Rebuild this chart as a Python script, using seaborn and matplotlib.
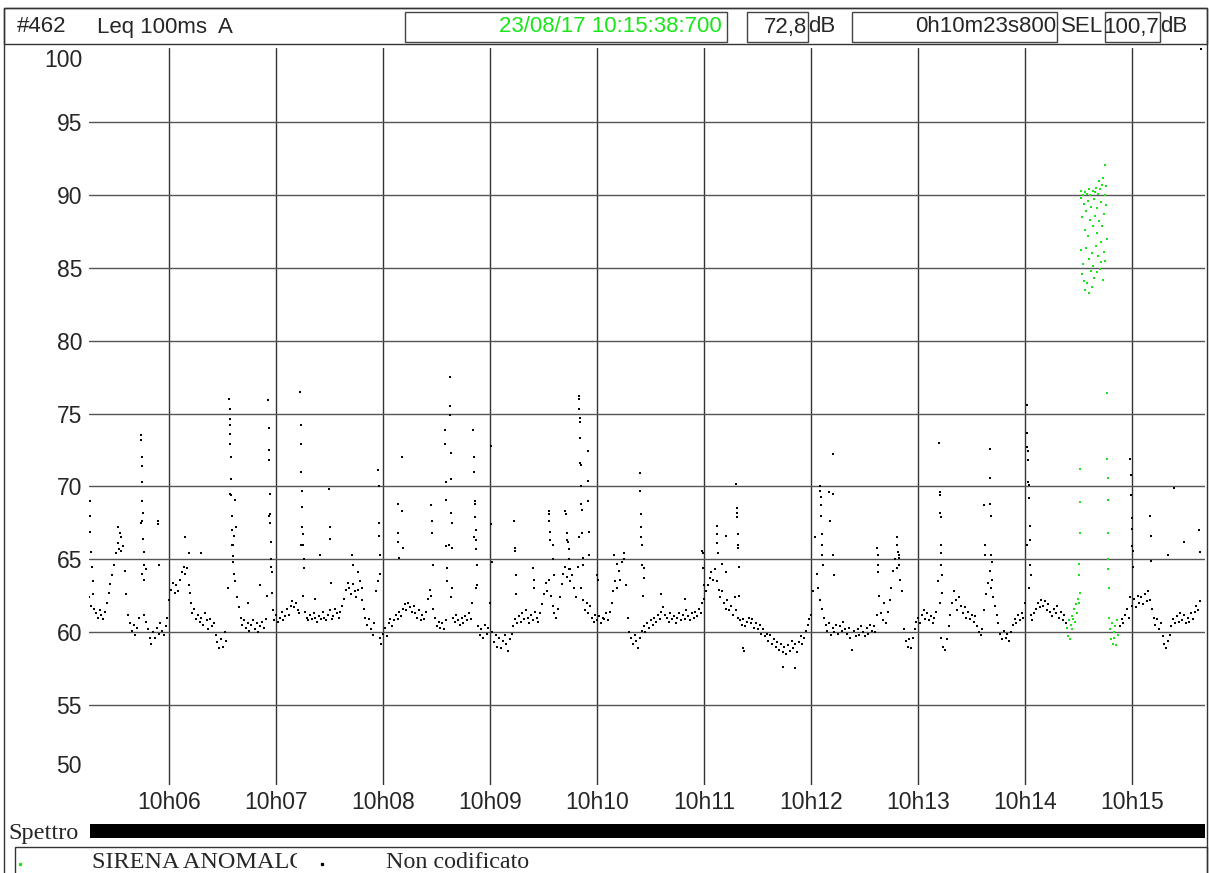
import numpy as np
import pandas as pd
import matplotlib
matplotlib.use("Agg")
import matplotlib.pyplot as plt
from matplotlib.patches import Rectangle
from matplotlib.lines import Line2D
import seaborn as sns

W, H = 1209, 873
START = 314.9  # first sample, seconds after 10:00:00 (10:05:14.9)

# black trace, one reading per second from START (None = siren event, drawn green)
leq_db = [
    62.4, 61.8, 62.6, 61.6, 61.3, 61.0, 61.5, 61.2, 60.9, 61.4,
    62.0, 62.7, 63.3, 63.9, 64.6, 65.4, 66.1, 65.7, 66.5, 65.9,
    64.2, 62.6, 61.2, 60.6, 60.1, 60.5, 59.8, 60.3, 61.0, 67.5,
    64.0, 61.2, 60.7, 60.2, 59.6, 59.2, 60.0, 59.6, 60.3, 59.9,
    60.6, 60.1, 59.8, 60.4, 61.0, 62.2, 62.9, 63.4, 62.7, 63.2,
    62.8, 63.6, 64.1, 64.5, 64.0, 64.4, 63.2, 62.0, 61.3, 61.6,
    60.9, 61.2, 60.7, 61.0, 60.5, 61.3, 60.8, 60.2, 60.9, 60.4,
    60.6, 59.8, 59.3, 58.9, 59.5, 59.0, 60.0, 59.4, 63.0, 69.5,
    66.0, 64.8, 63.5, 62.4, 61.7, 61.0, 60.5, 60.8, 60.3, 60.6,
    60.1, 60.5, 60.8, 60.2, 60.6, 60.0, 60.4, 60.7, 60.3, 60.9,
    62.5, 68.0, 64.5, 61.5, 60.8, 61.2, 60.7, 61.0, 61.4, 60.8,
    61.1, 61.6, 61.2, 61.8, 62.1, 61.7, 62.0, 61.5, 61.3, 66.0,
    62.5, 61.4, 61.0, 60.8, 61.2, 60.9, 61.3, 61.0, 60.7, 61.1,
    60.9, 61.4, 61.0, 60.8, 61.2, 61.5, 60.9, 61.1, 61.6, 61.3,
    61.0, 61.4, 61.8, 62.3, 62.9, 63.4, 63.0, 62.6, 63.3, 62.8,
    62.4, 62.9, 63.5, 62.2, 61.6, 61.0, 60.5, 60.9, 60.2, 59.8,
    60.6, 62.8, 63.5, 59.6, 59.2, 59.9, 60.3, 59.7, 60.6, 60.9,
    60.4, 60.8, 61.2, 60.9, 61.4, 61.1, 61.6, 61.9, 61.5, 62.0,
    61.7, 61.4, 61.8, 61.3, 61.0, 61.5, 60.8, 61.2, 60.9, 61.4,
    62.3, 62.9, 62.5, 61.6, 61.0, 60.4, 60.7, 60.3, 60.6, 60.2,
    60.8, 63.5, 66.0, 62.4, 61.0, 60.7, 61.2, 60.8, 60.5, 61.0,
    60.6, 61.1, 60.8, 61.3, 60.9, 62.0, 66.5, 63.0, 60.4, 59.8,
    60.2, 59.6, 60.5, 59.9, 60.3, 62.0, 60.0, 59.3, 59.8, 59.0,
    59.6, 58.9, 59.4, 59.8, 59.2, 58.7, 59.5, 59.9, 60.4, 60.9,
    60.6, 61.1, 60.7, 61.3, 60.9, 61.5, 61.0, 60.6, 61.2, 60.8,
    61.4, 61.0, 60.7, 61.3, 61.9, 62.6, 63.4, 62.8, 63.6, 62.5,
    61.8, 61.3, 61.0, 61.6, 62.4, 63.3, 64.0, 64.5, 63.8, 64.3,
    63.5, 63.9, 63.0, 62.4, 64.5, 66.5, 63.0, 62.2, 61.5, 62.0,
    61.3, 61.8, 61.0, 60.7, 61.2, 60.8, 61.1, 60.6, 61.0, 60.9,
    61.3, 60.8, 61.4, 62.0, 62.8, 63.5, 63.0, 64.2, 63.6, 64.8,
    65.0, 63.2, 61.0, 60.0, 59.6, 59.2, 59.8, 59.4, 58.9, 59.6,
    60.1, 60.4, 60.0, 60.6, 60.3, 60.8, 60.5, 61.0, 60.7, 61.2,
    60.9, 61.4, 61.7, 61.2, 61.0, 60.7, 61.3, 60.9, 61.1, 60.6,
    61.0, 61.3, 60.8, 61.2, 60.9, 61.5, 61.1, 60.8, 61.3, 61.0,
    61.4, 61.1, 61.6, 61.3, 62.0, 62.3, 62.8, 63.2, 63.7, 64.1,
    63.6, 64.3, 63.5, 62.9, 62.4, 62.8, 62.0, 61.6, 62.2, 61.5,
    61.8, 61.2, 62.4, 61.5, 61.0, 60.8, 60.5, 60.9, 60.4, 60.7,
    61.0, 60.6, 60.9, 60.3, 60.6, 60.2, 60.5, 59.9, 60.2, 59.7,
    59.9, 59.4, 59.8, 59.2, 59.5, 59.0, 59.3, 58.8, 59.2, 58.6,
    59.0, 58.5, 59.1, 58.7, 59.4, 58.9, 59.2, 58.6, 59.3, 59.7,
    59.2, 59.6, 60.1, 60.5, 60.9, 61.2, 62.8, 66.5, 64.0, 63.0,
    62.2, 61.6, 61.0, 60.5, 60.1, 60.6, 59.8, 60.3, 60.0, 60.5,
    59.9, 60.4, 60.1, 60.7, 60.2, 59.9, 60.3, 59.6, 58.8, 60.1,
    59.7, 60.2, 59.8, 60.4, 60.0, 59.7, 60.3, 59.9, 60.5, 60.1,
    60.4, 60.0, 61.2, 62.5, 61.3, 60.8, 62.0, 60.6, 61.4, 62.2,
    63.0, 64.2, 65.0, 64.4, 65.3, 63.6, 62.8, 60.2, 59.4, 59.0,
    59.5, 58.9, 59.6, 60.2, 60.7, 61.0, 60.6, 61.2, 61.5, 60.9,
    61.3, 60.8, 61.1, 60.6, 61.0, 61.4, 63.5, 62.0, 59.6, 59.0,
    58.8, 59.5, 60.4, 61.2, 62.0, 62.8, 62.2, 61.5, 62.4, 61.8,
    61.3, 61.7, 61.0, 61.4, 60.9, 61.2, 60.7, 61.1, 60.4, 60.0,
    59.8, 60.2, 61.5, 62.6, 63.4, 64.2, 63.0, 62.4, 61.8, 61.2,
    60.6, 59.9, 59.5, 60.1, 59.6, 59.9, 59.4, 60.0, 60.5, 60.9,
    60.6, 61.2, 60.8, 61.3, 61.0, 62.0, 66.0, 63.0, 61.2, 60.8,
    61.3, 61.6, 62.0, 61.7, 62.2, 61.8, 62.1, 61.5, 61.9, 61.4,
    61.1, 61.6, 61.3, 61.8, 61.0, 61.4, 60.8, 61.2, 60.6, None,
    None, None, None, None, None, None, None, None, None, None,
    None, None, None, None, None, None, None, None, None, None,
    None, None, None, None, None, None, None, None, 60.4, 60.9,
    60.6, 61.2, 61.6, 61.0, 62.4, 61.8, 62.3, 61.7, 62.5, 62.0,
    62.4, 61.9, 62.6, 62.1, 62.8, 62.2, 61.6, 61.0, 60.5, 60.9,
    60.2, 60.6, 59.7, 59.2, 58.9, 59.4, 59.8, 60.4, 60.9, 60.6,
    61.1, 60.7, 61.3, 60.8, 61.2, 60.6, 61.0, 60.7, 61.3, 60.9,
    61.4, 61.8, 61.5, 62.1,
]

# extra black readings inside the short noise peaks: (seconds from START, dB)
peaks = [
    (0.3, 69.0), (0.5, 68.0), (0.8, 66.9), (1.2, 65.5), (1.6, 64.5), (2.2, 63.5),
    (16.5, 67.2), (17.5, 66.8), (18.2, 65.6),
    (29.2, 73.5), (29.4, 73.2), (29.6, 72.0), (29.8, 71.4), (30.0, 70.3), (29.5, 69.0),
    (30.2, 68.2), (29.9, 67.6), (30.4, 66.4), (30.6, 65.5), (30.8, 64.6), (31.0, 63.6),
    (32.0, 64.3), (38.5, 67.6), (38.8, 67.4), (39.2, 64.6),
    (54.0, 66.5), (56.0, 65.4), (56.5, 62.7), (63.0, 65.4),
    (78.6, 76.0), (78.8, 75.3), (79.0, 74.6), (78.9, 74.2), (79.2, 73.6), (79.3, 72.9),
    (79.5, 72.0), (79.6, 70.5), (79.8, 69.4), (80.0, 68.0), (80.3, 67.0), (80.5, 66.0),
    (80.8, 65.2), (81.2, 64.0), (82.0, 69.1), (82.2, 67.2), (81.5, 66.6),
    (89.0, 62.0), (96.0, 63.2),
    (100.6, 75.9), (100.8, 74.0), (101.0, 72.5), (101.2, 71.8), (101.4, 69.5), (101.5, 68.1),
    (101.7, 67.5), (101.9, 66.2), (102.2, 65.0), (102.5, 64.1), (102.8, 62.7),
    (118.4, 76.5), (118.6, 74.2), (118.8, 72.9), (119.0, 71.0), (119.2, 69.7), (119.4, 68.6),
    (119.6, 67.2), (119.8, 66.7), (120.0, 66.0), (120.3, 65.0), (120.6, 64.4),
    (127.0, 62.3), (129.7, 65.3), (134.8, 69.8), (135.0, 67.2), (135.2, 66.4), (135.5, 63.4),
    (147.4, 65.3), (148.0, 64.6), (151.0, 64.1), (153.0, 63.0),
    (162.2, 71.1), (162.4, 70.0), (162.6, 67.5), (162.8, 66.6), (163.0, 65.3), (163.3, 64.0),
    (173.0, 68.8), (173.3, 66.8), (173.5, 66.2), (174.0, 65.1), (175.5, 72.0), (175.7, 68.3),
    (176.0, 65.8),
    (192.0, 68.7), (192.3, 67.6), (192.6, 66.8), (193.0, 64.6),
    (199.6, 73.9), (199.8, 72.9), (200.0, 70.3), (200.2, 69.1), (200.4, 65.9), (200.6, 64.4),
    (202.2, 77.5), (202.4, 75.5), (202.6, 74.9), (202.8, 72.3), (203.0, 70.5), (203.2, 68.2),
    (203.4, 67.5), (203.6, 65.8), (203.8, 63.0),
    (215.6, 73.9), (215.8, 72.0), (216.0, 71.0), (216.2, 69.0), (216.4, 68.8), (216.6, 67.9),
    (216.8, 67.0), (217.0, 66.3), (217.2, 65.7), (217.4, 64.6), (217.6, 63.2),
    (225.4, 72.8), (225.6, 67.4), (225.8, 64.8),
    (238.5, 67.6), (238.7, 65.8), (238.9, 65.6), (239.2, 63.9), (239.5, 62.6),
    (249.0, 64.4), (249.3, 63.6), (249.6, 63.0),
    (257.7, 68.3), (258.0, 68.1), (258.2, 67.6), (258.4, 66.9), (258.6, 66.3),
    (260.0, 66.0), (260.3, 65.0), (260.6, 63.9),
    (267.0, 68.3), (267.5, 68.1), (268.0, 66.8), (268.3, 66.3), (268.6, 66.2), (269.0, 65.7),
    (269.4, 65.0), (269.8, 64.3),
    (274.6, 76.2), (274.8, 76.0), (275.0, 75.3), (275.1, 74.7), (275.2, 74.4), (275.4, 73.3),
    (275.6, 71.6), (275.7, 71.5), (275.9, 70.0), (276.1, 68.8), (276.3, 68.4), (276.5, 66.8),
    (276.8, 65.1), (277.0, 64.6),
    (279.6, 72.4), (279.8, 70.4), (280.0, 69.0), (280.3, 66.9), (280.6, 65.3),
    (285.0, 63.9), (285.4, 63.6), (294.5, 65.3), (296.0, 64.7), (300.2, 65.4),
    (309.0, 70.9), (309.2, 69.7), (309.4, 68.1), (309.6, 67.2), (309.8, 66.5), (310.0, 66.0),
    (310.3, 64.6), (311.0, 64.4), (311.4, 63.7), (310.6, 62.5),
    (320.6, 62.6), (334.0, 62.3),
    (344.0, 65.6), (344.2, 65.4), (344.4, 64.4), (344.7, 63.2),
    (352.0, 67.3), (352.2, 66.7), (352.4, 66.1), (352.6, 65.4),
    (355.0, 64.7), (357.0, 66.6), (357.3, 64.1),
    (363.0, 70.2), (363.2, 68.5), (363.3, 68.2), (363.5, 67.9), (363.7, 66.7), (363.9, 66.0),
    (364.1, 65.8), (364.4, 64.5), (364.7, 62.5),
    (367.0, 58.9), (367.3, 58.7), (389.0, 57.6), (396.0, 57.5),
    (410.0, 70.0), (410.1, 69.7), (410.3, 69.3), (410.5, 68.7), (410.7, 68.0), (410.9, 66.7),
    (411.1, 66.0), (411.3, 65.3), (411.6, 64.6),
    (415.0, 69.6), (415.3, 67.6), (417.0, 72.2), (417.2, 69.5), (417.4, 65.3), (417.7, 63.9),
    (442.0, 65.8), (442.2, 65.3), (442.4, 64.6), (442.6, 64.1),
    (453.0, 66.5), (453.3, 66.0), (453.6, 65.5), (454.0, 65.1), (454.3, 64.6),
    (476.8, 73.0), (477.0, 69.6), (477.2, 69.4), (477.3, 68.2), (477.5, 67.9), (477.6, 66.0),
    (477.8, 65.4), (478.0, 64.6), (478.3, 63.9), (478.6, 62.7),
    (502.0, 68.7), (502.3, 66.0), (502.6, 65.3),
    (505.0, 72.6), (505.2, 70.6), (505.4, 68.8), (505.6, 68.0), (505.8, 65.3), (506.1, 64.8),
    (506.4, 63.6),
    (525.8, 75.6), (526.0, 73.7), (526.2, 72.7), (526.4, 72.4), (526.6, 71.8), (526.8, 70.3),
    (527.0, 70.1), (527.2, 69.2), (527.4, 67.3), (527.6, 66.3), (527.8, 64.6), (528.1, 63.9),
    (584.0, 71.9), (584.2, 70.8), (584.4, 69.4), (584.6, 67.8), (584.8, 67.1), (585.0, 65.9),
    (585.3, 65.6), (585.6, 64.5),
    (595.0, 68.0), (595.3, 66.6), (595.6, 64.9),
    (605.0, 65.3), (608.2, 69.9), (614.0, 66.2), (622.5, 67.0), (622.8, 65.5), (623.7, 100.0),
]

# siren event (green): (seconds from START, dB)
siren = [
    (548.5, 60.3), (549.0, 59.7), (549.5, 60.8), (550.0, 59.5), (550.5, 60.5), (551.0, 61.1),
    (551.5, 60.2), (552.0, 60.9), (552.5, 61.6), (553.0, 60.7), (553.5, 61.9), (554.0, 61.3),
    (554.5, 62.3), (555.0, 62.0), (555.3, 63.9), (555.4, 64.7), (555.5, 66.8), (555.6, 68.9),
    (555.7, 71.2), (555.8, 62.7),
    (556.00, 89.8), (556.25, 86.2), (556.50, 90.3), (556.75, 84.6), (557.00, 88.5),
    (557.25, 90.0), (557.50, 85.3), (557.75, 89.4), (558.00, 84.1), (558.25, 87.6),
    (558.50, 90.2), (558.75, 83.5), (559.00, 88.9), (559.25, 86.4), (559.50, 90.1),
    (559.75, 84.0), (560.00, 89.6), (560.25, 87.2), (560.50, 83.3), (560.75, 90.4),
    (561.00, 85.6), (561.25, 88.3), (561.50, 90.0), (561.75, 84.8), (562.00, 89.2),
    (562.25, 86.0), (562.50, 83.7), (562.75, 90.3), (563.00, 87.9), (563.25, 85.1),
    (563.50, 89.7), (563.75, 84.3), (564.00, 90.2), (564.25, 88.6), (564.50, 86.5),
    (564.75, 90.5), (565.00, 84.7), (565.25, 89.1), (565.50, 87.4), (565.75, 90.1),
    (566.00, 85.8), (566.25, 91.0), (566.50, 88.2), (566.75, 84.9), (567.00, 90.4),
    (567.25, 86.8), (567.50, 89.5), (567.75, 85.4), (568.00, 90.7), (568.25, 87.9),
    (568.50, 84.2), (568.75, 91.2), (569.00, 88.7), (569.25, 86.1), (569.50, 90.0),
    (569.75, 92.1), (570.00, 85.5), (570.25, 89.3), (570.50, 90.6), (570.75, 87.0),
    (571.0, 76.4), (571.1, 71.9), (571.2, 70.6), (571.3, 69.1), (571.4, 66.8), (571.5, 65.0),
    (571.6, 64.3), (571.7, 63.0), (572.0, 61.0), (572.5, 60.2), (573.0, 59.5), (573.5, 60.6),
    (574.0, 59.2), (574.5, 60.0), (575.0, 59.6), (575.5, 60.4), (576.0, 59.1), (576.5, 60.8),
    (577.0, 59.8),
]

minute_ticks = [360, 420, 480, 540, 600, 660, 720, 780, 840, 900]
minute_labels = ["10h06", "10h07", "10h08", "10h09", "10h10",
                 "10h11", "10h12", "10h13", "10h14", "10h15"]
level_ticks = [50, 55, 60, 65, 70, 75, 80, 85, 90, 95, 100]

GREEN = "#19e619"

sns.set_style("white")
plt.rcParams["font.family"] = ["Liberation Sans", "DejaVu Sans"]

trace = pd.DataFrame({"t": START + np.arange(len(leq_db)),
                      "db": pd.to_numeric(pd.Series(leq_db), errors="coerce")})
extra = pd.DataFrame(peaks, columns=["s", "db"])
extra["t"] = START + extra["s"]
event = pd.DataFrame(siren, columns=["s", "db"])
event["t"] = START + event["s"]

fig = plt.figure(figsize=(W / 100, H / 100), dpi=100)


def fx(x):
    return x / W


def fy(y):
    return 1 - y / H


def box(x0, y0, x1, y1, ec="#444444", lw=1.0, fc="none"):
    fig.patches.append(Rectangle((fx(x0), fy(y1)), (x1 - x0) / W, (y1 - y0) / H,
                                 transform=fig.transFigure, fc=fc, ec=ec, lw=lw))


ax = fig.add_axes([fx(89), fy(785), (1205 - 89) / W, (785 - 48) / H])
sns.scatterplot(data=trace, x="t", y="db", color="black", s=4, marker="s",
                linewidth=0, ax=ax, legend=False)
sns.scatterplot(data=extra, x="t", y="db", color="black", s=4, marker="s",
                linewidth=0, ax=ax, legend=False)
sns.scatterplot(data=event, x="t", y="db", color=GREEN, s=4, marker="s",
                linewidth=0, ax=ax, legend=False)

ax.set_xlim(START, START + 625.8)
ax.set_ylim(49.5, 100.1)
ax.set_xticks(minute_ticks)
ax.set_xticklabels(minute_labels, fontsize=16.5)
ax.set_yticks(level_ticks)
ax.set_yticklabels([str(v) for v in level_ticks], fontsize=16.5)
ax.set_xlabel("")
ax.set_ylabel("")
for sp in ax.spines.values():
    sp.set_visible(False)
ax.tick_params(axis="x", length=0, pad=4)
ax.tick_params(axis="y", length=2, width=1, color="#777777", pad=3)
ax.grid(axis="x", color="#333333", lw=1.0)
ax.grid(axis="y", color="#555555", lw=1.0)
ygl = ax.yaxis.get_gridlines()
ygl[0].set_visible(False)
ygl[-1].set_visible(False)
ylabs = ax.get_yticklabels()
ylabs[0].set_verticalalignment("bottom")
ylabs[-1].set_verticalalignment("top")

# outer frame and header strip
box(4, 8, 1207, 890, ec="#333333")
box(4, 8, 1207, 44, ec="#333333")
fig.text(fx(17), fy(27), "#462", fontsize=16, va="center")
fig.text(fx(97), fy(27), "Leq 100ms  A", fontsize=16, va="center")
box(405, 12, 727, 42)
fig.text(fx(722), fy(27), "23/08/17 10:15:38:700", fontsize=16, va="center",
         ha="right", color=GREEN)
box(747, 12, 808, 42)
fig.text(fx(807), fy(27), "72,8", fontsize=16, va="center", ha="right")
fig.text(fx(808), fy(27), "dB", fontsize=16, va="center")
box(852, 12, 1057, 42)
fig.text(fx(1056), fy(27), "0h10m23s800", fontsize=16, va="center", ha="right")
fig.text(fx(1061), fy(27), "SEL", fontsize=16, va="center")
box(1105, 12, 1160, 42)
fig.text(fx(1159), fy(27), "100,7", fontsize=16, va="center", ha="right")
fig.text(fx(1160), fy(27), "dB", fontsize=16, va="center")

# spectrum strip
fig.text(fx(8), fy(839), "Spettro", fontsize=17.5, family="Liberation Serif",
         va="baseline")
box(90, 824, 1205, 838, ec="black", fc="black", lw=0)

# legend strip
box(15, 847, 1207, 890, ec="#333333")
fig.add_artist(Line2D([fx(20)], [fy(864)], marker="s", ms=1.4, color=GREEN,
                      lw=0, transform=fig.transFigure))
fig.add_artist(Line2D([fx(322)], [fy(864)], marker="s", ms=1.4, color="black",
                      lw=0, transform=fig.transFigure))
lab1 = fig.text(fx(92), fy(868), "SIRENA ANOMALO", fontsize=17.5,
                family="Liberation Serif", va="baseline")
lab1.set_clip_path(Rectangle((fx(92), fy(873)), (297 - 92) / W, 30 / H,
                             transform=fig.transFigure))
fig.text(fx(386), fy(868), "Non codificato", fontsize=17.3,
         family="Liberation Serif", va="baseline")

fig.savefig("out.png", dpi=100)
